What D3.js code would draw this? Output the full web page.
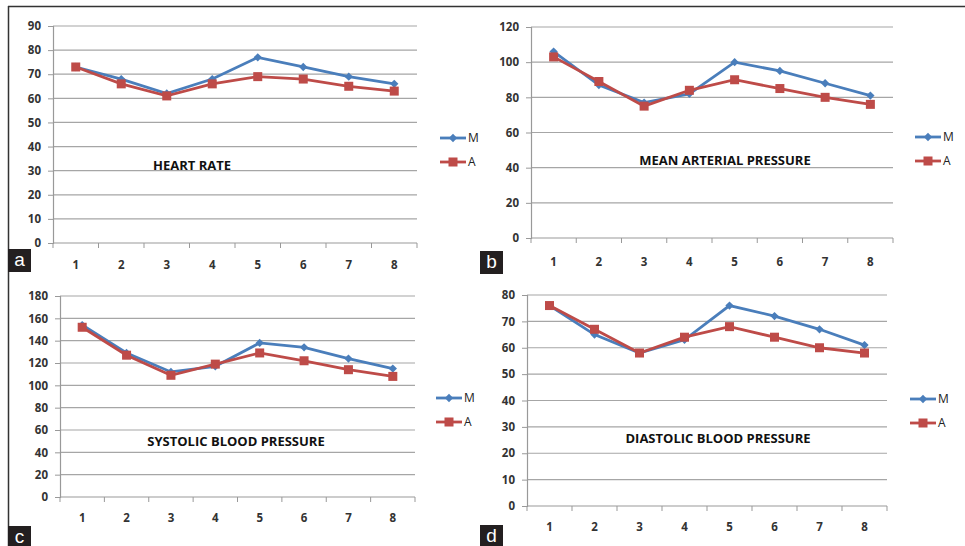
<!DOCTYPE html>
<html>
<head>
<meta charset="utf-8">
<script src="https://cdn.jsdelivr.net/npm/d3@7"></script>
<style>
  body { margin: 0; background: #fff; }
  svg { display: block; }
  .tick-label { font-family: "Open Sans", sans-serif; font-weight: 700; font-size: 11.5px; fill: #333; }
  .title { font-family: "Open Sans", sans-serif; font-weight: 700; font-size: 13px; fill: #111; }
  .legend-text { font-family: "Open Sans", sans-serif; font-size: 12px; fill: #222; }
</style>
</head>
<body>
<div id="chart"></div>
<script>
// DATA
const categories = ["1", "2", "3", "4", "5", "6", "7", "8"];
const seriesNames = ["M", "A"];

const heartRateM = [73, 68, 62, 68, 77, 73, 69, 66];
const heartRateA = [73, 66, 61, 66, 69, 68, 65, 63];
const heartRateTicks = [0, 10, 20, 30, 40, 50, 60, 70, 80, 90];

const mapM = [106, 87, 77, 82, 100, 95, 88, 81];
const mapA = [103, 89, 75, 84, 90, 85, 80, 76];
const mapTicks = [0, 20, 40, 60, 80, 100, 120];

const sbpM = [154, 129, 112, 117, 138, 134, 124, 115];
const sbpA = [152, 127, 109, 119, 129, 122, 114, 108];
const sbpTicks = [0, 20, 40, 60, 80, 100, 120, 140, 160, 180];

const dbpM = [76, 65, 58, 63, 76, 72, 67, 61];
const dbpA = [76, 67, 58, 64, 68, 64, 60, 58];
const dbpTicks = [0, 10, 20, 30, 40, 50, 60, 70, 80];

const width = 965;
const height = 546;
const blue = "#4a7ebb";
const red = "#be4b48";

const svg = d3.select("#chart")
    .append("svg")
    .attr("width", width)
    .attr("height", height);

// outer frame
svg.append("line").attr("x1", 8).attr("x2", width).attr("y1", 6.5).attr("y2", 6.5)
    .attr("stroke", "#333").attr("stroke-width", 1.5);
svg.append("line").attr("x1", 8.5).attr("x2", 8.5).attr("y1", 6).attr("y2", height)
    .attr("stroke", "#333").attr("stroke-width", 1.5);

const panels = [
    { letter: "a", title: "HEART RATE", m: heartRateM, a: heartRateA, ticks: heartRateTicks,
      x0: 53, x1: 417, yTop: 26, yBottom: 243, labelY: 269, titleX: 192, titleY: 170,
      legendX: 440, legendY: 138, boxX: 8, boxY: 249 },
    { letter: "b", title: "MEAN ARTERIAL PRESSURE", m: mapM, a: mapA, ticks: mapTicks,
      x0: 531, x1: 893, yTop: 27, yBottom: 238, labelY: 266, titleX: 725, titleY: 165,
      legendX: 915, legendY: 137, boxX: 480, boxY: 251 },
    { letter: "c", title: "SYSTOLIC BLOOD PRESSURE", m: sbpM, a: sbpA, ticks: sbpTicks,
      x0: 60, x1: 415, yTop: 296, yBottom: 497, labelY: 522, titleX: 236, titleY: 446,
      legendX: 436, legendY: 398, boxX: 8, boxY: 526 },
    { letter: "d", title: "DIASTOLIC BLOOD PRESSURE", m: dbpM, a: dbpA, ticks: dbpTicks,
      x0: 527, x1: 887, yTop: 295, yBottom: 506, labelY: 531, titleX: 718, titleY: 443,
      legendX: 910, legendY: 399, boxX: 480, boxY: 525 }
];

panels.forEach(p => drawPanel(p));

function drawPanel(p) {
    const g = svg.append("g");

    const xScale = d3.scaleBand()
        .domain(categories)
        .range([p.x0, p.x1]);

    const yScale = d3.scaleLinear()
        .domain([0, d3.max(p.ticks)])
        .range([p.yBottom, p.yTop]);

    // GRID
    g.selectAll(".grid")
        .data(p.ticks.filter(t => t > 0))
        .enter().append("line")
        .attr("x1", p.x0)
        .attr("x2", p.x1)
        .attr("y1", d => yScale(d))
        .attr("y2", d => yScale(d))
        .attr("stroke", "#a6a6a6")
        .attr("stroke-width", 1.2);

    // Y AXIS
    const yAxis = d3.axisLeft(yScale)
        .tickValues(p.ticks)
        .tickSize(5)
        .tickPadding(7);
    const yAxisGroup = g.append("g")
        .attr("transform", `translate(${p.x0}, 0)`)
        .call(yAxis);
    yAxisGroup.select(".domain").attr("stroke", "#999").attr("stroke-width", 1.2);
    yAxisGroup.selectAll(".tick line").attr("stroke", "#999");
    yAxisGroup.selectAll(".tick text").attr("class", "tick-label").attr("font-family", null).attr("font-size", null);

    // X AXIS (ticks at category boundaries)
    const xAxisGroup = g.append("g");
    xAxisGroup.append("line")
        .attr("x1", p.x0).attr("x2", p.x1)
        .attr("y1", p.yBottom).attr("y2", p.yBottom)
        .attr("stroke", "#999").attr("stroke-width", 1.2);
    const bounds = categories.map(c => xScale(c)).concat([p.x1]);
    xAxisGroup.selectAll(".xtick")
        .data(bounds)
        .enter().append("line")
        .attr("x1", d => d).attr("x2", d => d)
        .attr("y1", p.yBottom).attr("y2", p.yBottom + 5)
        .attr("stroke", "#999");
    xAxisGroup.selectAll(".xlabel")
        .data(categories)
        .enter().append("text")
        .attr("class", "tick-label")
        .attr("x", d => xScale(d) + xScale.bandwidth() / 2)
        .attr("y", p.labelY)
        .attr("text-anchor", "middle")
        .text(d => d);

    // LINES
    const line = d3.line()
        .x((d, i) => xScale(categories[i]) + xScale.bandwidth() / 2)
        .y(d => yScale(d));

    g.append("path")
        .datum(p.m)
        .attr("fill", "none")
        .attr("stroke", blue)
        .attr("stroke-width", 2.8)
        .attr("d", line);

    g.append("path")
        .datum(p.a)
        .attr("fill", "none")
        .attr("stroke", red)
        .attr("stroke-width", 2.8)
        .attr("d", line);

    const diamond = d3.symbol().type(d3.symbolDiamond2).size(44);

    g.selectAll(".m-point")
        .data(p.m)
        .enter().append("path")
        .attr("d", diamond)
        .attr("transform", (d, i) => `translate(${xScale(categories[i]) + xScale.bandwidth() / 2}, ${yScale(d)})`)
        .attr("fill", blue);

    g.selectAll(".a-point")
        .data(p.a)
        .enter().append("rect")
        .attr("x", (d, i) => xScale(categories[i]) + xScale.bandwidth() / 2 - 4.5)
        .attr("y", d => yScale(d) - 4.5)
        .attr("width", 9)
        .attr("height", 9)
        .attr("fill", red);

    // TITLE
    g.append("text")
        .attr("class", "title")
        .attr("x", p.titleX)
        .attr("y", p.titleY)
        .attr("text-anchor", "middle")
        .text(p.title);

    // LEGEND
    const legend = g.append("g")
        .attr("transform", `translate(${p.legendX}, ${p.legendY})`);
    const legendItem = legend.selectAll(".legend")
        .data(seriesNames)
        .enter().append("g")
        .attr("transform", (d, i) => `translate(0, ${i * 24})`);
    legendItem.append("line")
        .attr("x1", 0).attr("x2", 26)
        .attr("stroke", (d, i) => i === 0 ? blue : red)
        .attr("stroke-width", 2.8);
    legendItem.each(function (d, i) {
        const item = d3.select(this);
        if (i === 0) {
            item.append("path").attr("d", diamond).attr("transform", "translate(13, 0)").attr("fill", blue);
        } else {
            item.append("rect").attr("x", 8.5).attr("y", -4.5).attr("width", 9).attr("height", 9).attr("fill", red);
        }
    });
    legendItem.append("text")
        .attr("class", "legend-text")
        .attr("x", 28)
        .attr("dy", "0.35em")
        .text(d => d);

    // PANEL LETTER
    g.append("rect")
        .attr("x", p.boxX).attr("y", p.boxY)
        .attr("width", 23).attr("height", 23)
        .attr("fill", "#231f20");
    g.append("text")
        .attr("x", p.boxX + 11.5)
        .attr("y", p.boxY + 16.5)
        .attr("text-anchor", "middle")
        .attr("font-family", "Liberation Sans, Arial, sans-serif")
        .attr("font-size", 19)
        .attr("fill", "#fff")
        .text(p.letter);
}
</script>
</body>
</html>
